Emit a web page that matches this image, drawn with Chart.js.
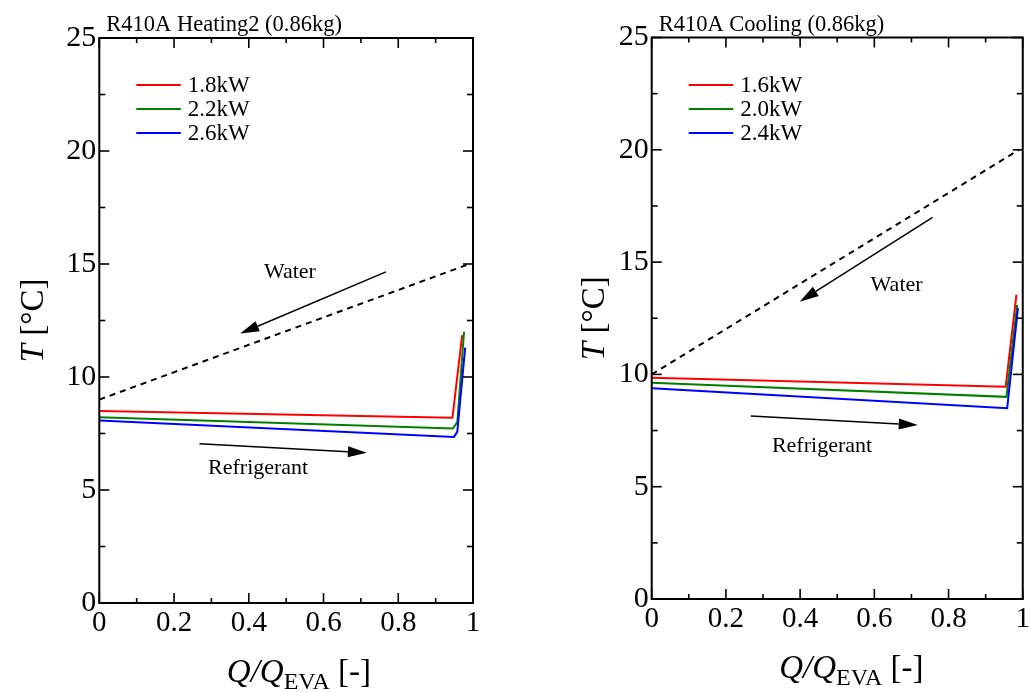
<!DOCTYPE html>
<html>
<head>
<meta charset="utf-8">
<script src="https://cdn.jsdelivr.net/npm/chart.js@4/dist/chart.umd.min.js"></script>
<style>
  html, body { margin: 0; padding: 0; background: #fff; }
  #wrap { position: relative; width: 1033px; height: 692px; }
  .box { position: absolute; top: 0; height: 692px; }
  #boxL { left: 0; width: 516px; }
  #boxR { left: 516px; width: 517px; }
</style>
</head>
<body>
<div id="wrap">
  <div class="box" id="boxL"><canvas id="heating" width="516" height="692"></canvas></div>
  <div class="box" id="boxR"><canvas id="cooling" width="517" height="692"></canvas></div>
</div>
<script>
// heating side, x = Q/Q_EVA, T in degC
const heatQ18 = [0, 0.945, 0.971]
const heatT18 = [8.5, 8.2, 11.85]
const heatQ22 = [0, 0.946, 0.958, 0.976]
const heatT22 = [8.22, 7.72, 8.0, 12.0]
const heatQ26 = [0, 0.949, 0.958, 0.979]
const heatT26 = [8.08, 7.35, 7.57, 11.3]
const heatWaterQ = [0, 0.99]
const heatWaterT = [9, 15]
const heatLabels = ['1.8kW', '2.2kW', '2.6kW']

// cooling side
const coolQ16 = [0, 0.954, 0.983]
const coolT16 = [9.85, 9.45, 13.55]
const coolQ20 = [0, 0.956, 0.985]
const coolT20 = [9.63, 9.0, 13.1]
const coolQ24 = [0, 0.958, 0.987]
const coolT24 = [9.38, 8.49, 12.95]
const coolWaterQ = [0, 0.99]
const coolWaterT = [10, 20]
const coolLabels = ['1.6kW', '2.0kW', '2.4kW']

const xTicks = { min: 0, max: 1, step: 0.1 }
const yTicks = { min: 0, max: 25, step: 2.5 }

const serif = '"Liberation Serif", "Times New Roman", serif'

function pts(xs, ys) {
    return xs.map((x, i) => ({ x: x, y: ys[i] }))
}

function line(ctx, x1, y1, x2, y2) {
    ctx.beginPath()
    ctx.moveTo(x1, y1)
    ctx.lineTo(x2, y2)
    ctx.stroke()
}

function arrow(ctx, x1, y1, x2, y2) {
    let ang = Math.atan2(y2 - y1, x2 - x1)
    let len = 19, half = 5.5
    let bx = x2 - len * Math.cos(ang), by = y2 - len * Math.sin(ang)
    ctx.lineWidth = 1.5
    line(ctx, x1, y1, bx, by)
    ctx.beginPath()
    ctx.moveTo(x2, y2)
    ctx.lineTo(bx + half * Math.sin(ang), by - half * Math.cos(ang))
    ctx.lineTo(bx - half * Math.sin(ang), by + half * Math.cos(ang))
    ctx.closePath()
    ctx.fill()
}

// frame, inward ticks, legend, notes and axis titles
const framePlugin = {
    id: 'frame',
    afterDatasetsDraw(chart, args, opts) {
        const ctx = chart.ctx
        const a = chart.chartArea
        const x = chart.scales.x, y = chart.scales.y
        ctx.save()
        ctx.strokeStyle = '#000'
        ctx.fillStyle = '#000'

        ctx.lineWidth = 1.6
        x.ticks.forEach(t => {
            let px = x.getPixelForValue(t.value)
            let len = t.label ? 10 : 5
            line(ctx, px, a.bottom, px, a.bottom - len)
            line(ctx, px, a.top, px, a.top + len)
        })
        y.ticks.forEach(t => {
            let py = y.getPixelForValue(t.value)
            let len = t.label ? 10 : 6
            line(ctx, a.left, py, a.left + len, py)
            line(ctx, a.right, py, a.right - len, py)
        })
        ctx.lineWidth = 2
        ctx.strokeRect(a.left, a.top, a.right - a.left, a.bottom - a.top)

        // legend
        ctx.font = '23px ' + serif
        ctx.textBaseline = 'middle'
        ctx.textAlign = 'left'
        chart.data.datasets.filter(d => d.label).forEach((d, i) => {
            let ly = 85 + i * 24
            ctx.strokeStyle = d.borderColor
            ctx.lineWidth = 2
            line(ctx, a.left + 37, ly, a.left + 81.5, ly)
            ctx.fillText(d.label, a.left + 88.5, ly + 1)
        })

        // flow arrows
        ctx.strokeStyle = '#000'
        opts.arrows.forEach(r => {
            arrow(ctx, x.getPixelForValue(r[0]), y.getPixelForValue(r[1]),
                x.getPixelForValue(r[2]), y.getPixelForValue(r[3]))
        })
        ctx.font = '22px ' + serif
        ctx.textAlign = 'center'
        opts.notes.forEach(n => {
            ctx.fillText(n.text, x.getPixelForValue(n.at[0]), y.getPixelForValue(n.at[1]))
        })

        // title
        ctx.textAlign = 'left'
        ctx.textBaseline = 'alphabetic'
        ctx.font = '22.5px ' + serif
        ctx.fillText(opts.title, a.left + 7, 31)

        // x title: Q/Q_EVA [-]
        let bx = a.left + 127.5, by = a.bottom + 79
        let big = '33px ' + serif, bigI = 'italic 33px ' + serif
        ctx.font = bigI
        ctx.fillText('Q/Q', bx, by)
        bx += ctx.measureText('Q/Q').width
        ctx.font = '24px ' + serif
        ctx.fillText('EVA', bx, by + 7)
        bx += ctx.measureText('EVA').width
        ctx.font = big
        ctx.fillText(' [-]', bx, by)

        // y title: T [degC]
        ctx.save()
        ctx.translate(a.left + opts.yTitleOffset, (a.top + a.bottom) / 2)
        ctx.rotate(-Math.PI / 2)
        ctx.font = bigI
        let w1 = ctx.measureText('T').width
        ctx.font = big
        let w2 = ctx.measureText(' [°C]').width
        let sx = -(w1 + w2) / 2
        ctx.font = bigI
        ctx.fillText('T', sx, 0)
        ctx.font = big
        ctx.fillText(' [°C]', sx + w1, 0)
        ctx.restore()

        ctx.restore()
    }
}

function makeChart(id, sets, labels, water, frame, pad, yWidth, xHeight) {
    let colors = ['#ff0000', '#008000', '#0000ff']
    let datasets = sets.map((s, i) => ({
        label: labels[i],
        data: pts(s[0], s[1]),
        borderColor: colors[i],
        borderWidth: 2,
        pointRadius: 0,
        tension: 0,
        fill: false,
        order: 3 - i
    }))
    datasets.push({
        label: '',
        data: pts(water[0], water[1]),
        borderColor: '#000',
        borderWidth: 2,
        borderDash: [6, 5],
        pointRadius: 0,
        fill: false,
        order: 0
    })

    return new Chart(document.getElementById(id), {
        type: 'line',
        data: { datasets: datasets },
        options: {
            responsive: false,
            animation: false,
            layout: { padding: pad },
            plugins: {
                legend: { display: false },
                tooltip: { enabled: false },
                frame: frame
            },
            scales: {
                x: {
                    type: 'linear',
                    min: xTicks.min, max: xTicks.max,
                    grid: { display: false, drawTicks: false },
                    border: { display: false },
                    ticks: {
                        stepSize: xTicks.step,
                        autoSkip: false,
                        maxRotation: 0,
                        padding: 3,
                        color: '#000',
                        font: { family: serif, size: 29 },
                        callback: v => Math.round(v * 10) % 2 === 0 ? String(Math.round(v * 10) / 10) : ''
                    },
                    afterFit: s => { s.height = xHeight }
                },
                y: {
                    min: yTicks.min, max: yTicks.max,
                    grid: { display: false, drawTicks: false },
                    border: { display: false },
                    ticks: {
                        stepSize: yTicks.step,
                        autoSkip: false,
                        padding: 3,
                        color: '#000',
                        font: { family: serif, size: 30 },
                        callback: v => v % 5 === 0 ? String(v) : ''
                    },
                    afterFit: s => { s.width = yWidth }
                }
            }
        },
        plugins: [framePlugin]
    })
}

const heatChart = makeChart('heating',
    [[heatQ18, heatT18], [heatQ22, heatT22], [heatQ26, heatT26]],
    heatLabels, [heatWaterQ, heatWaterT],
    {
        title: 'R410A Heating2 (0.86kg)',
        arrows: [[0.767, 14.65, 0.377, 11.92], [0.268, 7.05, 0.716, 6.65]],
        notes: [{ text: 'Water', at: [0.51, 14.65] }, { text: 'Refrigerant', at: [0.425, 5.96] }],
        yTitleOffset: -56
    },
    { top: 38, right: 43, bottom: 0, left: 0 }, 99.3, 89)

const coolChart = makeChart('cooling',
    [[coolQ16, coolT16], [coolQ20, coolT20], [coolQ24, coolT24]],
    coolLabels, [coolWaterQ, coolWaterT],
    {
        title: 'R410A Cooling (0.86kg)',
        arrows: [[0.757, 16.99, 0.399, 13.24], [0.267, 8.15, 0.717, 7.75]],
        notes: [{ text: 'Water', at: [0.66, 13.98] }, { text: 'Refrigerant', at: [0.459, 6.81] }],
        yTitleOffset: -48
    },
    { top: 37.5, right: 10, bottom: 0, left: 0 }, 135.7, 93)
</script>
</body>
</html>
